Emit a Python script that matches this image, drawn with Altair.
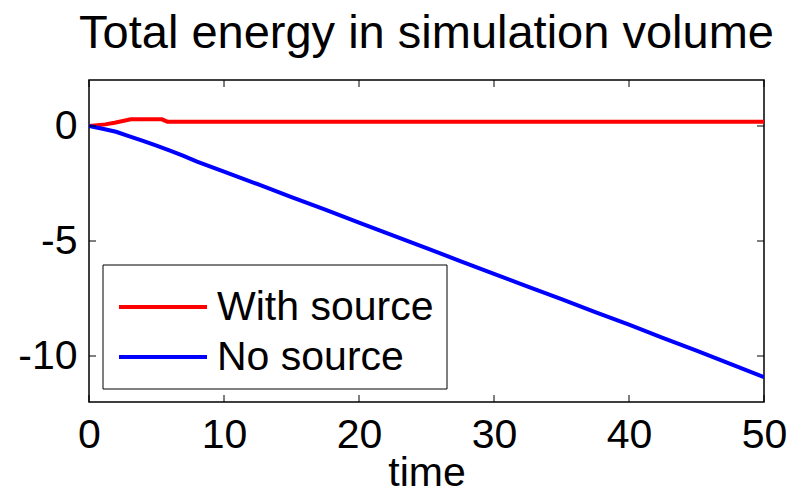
import altair as alt
import pandas as pd

# Sample times and total energy for the two runs
time_with = [0, 1.2, 1.9, 3.1, 5.4, 5.8, 10, 20, 30, 40, 50]
energy_with = [0.0, 0.07, 0.14, 0.29, 0.29, 0.19, 0.19, 0.19, 0.19, 0.19, 0.19]

time_none = [0, 1, 2, 3, 4, 5, 6, 7, 8, 9, 10, 12.5, 15, 17.5, 20, 22.5, 25,
             27.5, 30, 32.5, 35, 37.5, 40, 42.5, 45, 47.5, 50]
energy_none = [0.0, -0.12, -0.25, -0.45, -0.65, -0.85, -1.07, -1.30, -1.55,
               -1.77, -1.98, -2.53, -3.09, -3.64, -4.20, -4.76, -5.31, -5.87,
               -6.43, -6.98, -7.53, -8.09, -8.64, -9.21, -9.77, -10.34, -10.92]

series_names = ["With source", "No source"]
series_colors = ["#ff0000", "#0000ff"]

x_ticks = [0, 10, 20, 30, 40, 50]
y_ticks = [-10, -5, 0]

W, H = 675, 322
FONT = "Liberation Sans"
TICK_LEN = 7

df = pd.concat([
    pd.DataFrame({"time": time_with, "energy": energy_with, "series": series_names[0]}),
    pd.DataFrame({"time": time_none, "energy": energy_none, "series": series_names[1]}),
])
xt = pd.DataFrame({"t": x_ticks})
yt = pd.DataFrame({"v": y_ticks})

x_scale = alt.Scale(domain=[0, 50], nice=False, zero=False)
y_scale = alt.Scale(domain=[-12, 2], nice=False, zero=False)

# plain hyphen for negative numbers
plain_label = "datum.value < 0 ? '-' + abs(datum.value) : '' + datum.value"

x_axis = alt.Axis(values=x_ticks, title="time", ticks=False, tickSize=0,
                  grid=False, domain=False, labelFontSize=41,
                  labelFont=FONT, labelColor="black", labelFlush=False,
                  labelOverlap=False, labelExpr=plain_label,
                  labelBaseline="alphabetic", labelPadding=45,
                  titleFontSize=41, titleFont=FONT, titleColor="black",
                  titleFontWeight="normal", titleBaseline="alphabetic",
                  titleY=83)
y_axis = alt.Axis(values=y_ticks, title=None, ticks=False, tickSize=0,
                  grid=False, domain=False, labelFontSize=41,
                  labelFont=FONT, labelColor="black", labelPadding=12,
                  labelFlush=False, labelOverlap=False, labelExpr=plain_label)

lines = alt.Chart(df).mark_line(strokeWidth=4, clip=True).encode(
    x=alt.X("time:Q", scale=x_scale, axis=x_axis),
    y=alt.Y("energy:Q", scale=y_scale, axis=y_axis),
    color=alt.Color("series:N",
                    scale=alt.Scale(domain=series_names, range=series_colors),
                    legend=None),
)

# Inward-pointing ticks on all four sides of the box
tick_b = alt.Chart(xt).mark_rule(color="black", strokeWidth=1).encode(
    x=alt.X("t:Q", scale=x_scale, axis=x_axis),
    y=alt.value(H), y2=alt.value(H - TICK_LEN))
tick_t = alt.Chart(xt).mark_rule(color="black", strokeWidth=1).encode(
    x=alt.X("t:Q", scale=x_scale, axis=x_axis),
    y=alt.value(0), y2=alt.value(TICK_LEN))
tick_l = alt.Chart(yt).mark_rule(color="black", strokeWidth=1).encode(
    y=alt.Y("v:Q", scale=y_scale, axis=y_axis),
    x=alt.value(0), x2=alt.value(TICK_LEN))
tick_r = alt.Chart(yt).mark_rule(color="black", strokeWidth=1).encode(
    y=alt.Y("v:Q", scale=y_scale, axis=y_axis),
    x=alt.value(W), x2=alt.value(W - TICK_LEN))

# Legend box in the lower-left corner of the plot
LEG_X0, LEG_X1, LEG_Y0, LEG_Y1 = 14, 358, 185, 309
LEG_ROWS = [227, 277]
legend_box = alt.Chart(pd.DataFrame({"k": [0]})).mark_rect(
    fill="white", stroke="black", strokeWidth=1).encode(
    x=alt.value(LEG_X0), x2=alt.value(LEG_X1),
    y=alt.value(LEG_Y0), y2=alt.value(LEG_Y1))

legend_layers = []
for name, color, row in zip(series_names, series_colors, LEG_ROWS):
    item = pd.DataFrame({"series": [name]})
    legend_layers.append(
        alt.Chart(item).mark_rule(color=color, strokeWidth=4).encode(
            x=alt.value(30), x2=alt.value(118), y=alt.value(row)))
    legend_layers.append(
        alt.Chart(item).mark_text(align="left", baseline="middle",
                                  fontSize=41, font=FONT, color="black").encode(
            x=alt.value(128), y=alt.value(row + 1), text="series:N"))

chart = alt.layer(lines, tick_b, tick_t, tick_l, tick_r, legend_box,
                  *legend_layers).properties(
    width=W, height=H,
    autosize=alt.AutoSizeParams(type="none"),
    padding={"left": 89, "top": 80, "right": 37, "bottom": 93},
    title=alt.Title("Total energy in simulation volume", fontSize=47,
                    font=FONT, fontWeight="normal", color="black",
                    anchor="middle", offset=22),
    background="white",
).configure_view(stroke="black", strokeWidth=1.5)

chart.save("out.html", embed_options={"renderer": "svg", "actions": False})
